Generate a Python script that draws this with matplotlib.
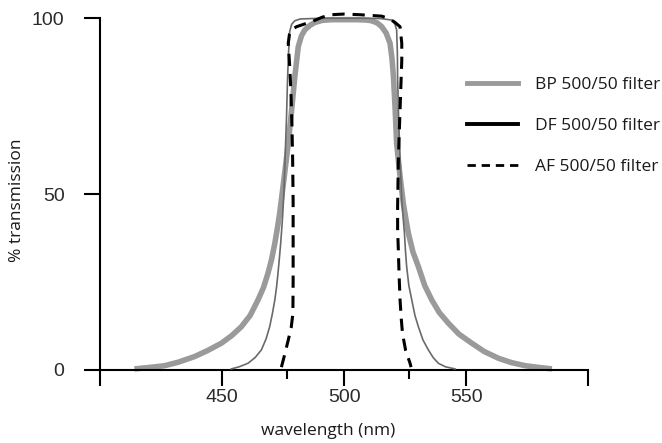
import matplotlib
matplotlib.use("Agg")
import matplotlib.pyplot as plt
from matplotlib.lines import Line2D
from matplotlib.ticker import FixedLocator

# filter transmission curves (wavelength nm, % transmission)
bp_nm = [414.1, 420, 426.4, 432, 438.7, 444, 449.7, 454, 457.9, 461.5, 464.7, 467, 468.8,
         470.3, 471.6, 472.7, 473.6, 475.3, 477.1, 478.5, 479.8, 481.2, 482.5, 483.9, 486,
         488.0, 491, 495, 500, 505, 509, 511.2, 513.5, 515.4, 517.2, 518.8, 519.6, 520.2,
         520.9, 521.5, 522.9, 524.3, 526.3, 528.2, 530.4, 533, 535.9, 539, 542.7, 547,
         552.3, 557.5, 563.3, 568.5, 574.2, 580, 585.1]
bp_t = [0.3, 0.7, 1.2, 2.2, 3.8, 5.5, 7.6, 9.8, 12.3, 15.5, 19.9, 23.5, 27.5,
        31.5, 36, 40.5, 44.6, 54, 64.4, 74, 83.4, 91.9, 95, 96.7, 98,
        98.8, 99.4, 99.6, 99.6, 99.6, 99.5, 99.3, 98.7, 97.6, 95.8, 92.9, 88.5, 83.4,
        74, 64.4, 55, 47, 38.9, 33.5, 29.4, 24, 19.9, 16.3, 13.3, 10.2,
        7.6, 5.2, 3.3, 2.1, 1.2, 0.7, 0.3]

df_nm = [453.8, 457, 460.6, 463.5, 466.1, 468, 469.5, 470.6, 471.6, 472.3, 472.9, 473.5,
         474.0, 474.7, 475.3, 475.9, 476.4, 476.8, 477.2, 477.7, 478.5, 479.8, 482, 490,
         500, 510, 515, 519.5, 520.8, 521.5, 521.8, 521.9, 522.3, 522.8, 523.2, 523.6,
         524.2, 524.7, 525.1, 525.6, 526.5, 527.7, 529, 530.4, 532.3, 534.5, 536.5,
         538.6, 541.5, 545.4]
df_t = [0.3, 0.9, 1.9, 3.5, 5.7, 8.8, 12.3, 16, 19.9, 23.5, 27.5, 32,
        36, 42.6, 50, 62, 72, 82.5, 90, 96.2, 98.3, 99.3, 99.8, 100,
        100, 100, 99.9, 99.5, 98.3, 96.7, 90, 83, 72, 62, 55, 48.3,
        43, 38.9, 34, 29.4, 24, 19.9, 15.5, 12.3, 8.5, 5.7, 3.5,
        1.9, 0.9, 0.3]

af_nm = [474.3, 475.5, 477.1, 478.3, 479.0, 479.1, 479.1, 479.1, 478.9, 478.6, 478.2,
         477.7, 477.1, 477.6, 478.4, 480.5, 483.9, 487.3, 491, 494.4, 500, 506.7, 511,
         515.4, 518, 520.5, 522.9, 523.6, 523.6, 523.2, 522.9, 522.5, 522.2, 521.9,
         521.9, 522.2, 522.5, 522.9, 523.4, 523.9, 525.2, 527.0, 527.4]
af_t = [0.8, 4, 8.5, 12, 16, 25, 35, 48, 60, 70, 79,
        86.3, 92.9, 95.5, 96.7, 97.6, 98.4, 99.2, 100.3, 101, 101.2, 101, 100.8,
        100.6, 100, 99, 97.6, 92.9, 88, 80, 74, 66, 59.7, 46.4,
        40, 34, 27, 19.9, 14.5, 10.4, 5.5, 1.9, 0.8]

x_major = [400, 450, 500, 550, 600]
x_labels = ["", "450", "500", "550", ""]
x_minor = [476.5, 526.5]
y_ticks = [0, 50, 100]
legend_labels = ["BP 500/50 filter", "DF 500/50 filter", "AF 500/50 filter"]

W, H = 662, 443
fig = plt.figure(figsize=(W / 100, H / 100), dpi=100)
# axes placed in pixel terms: x 390..610 nm, y -8..104 %
ax = fig.add_axes([75.6 / W, (H - 398.1) / H, 537.1 / W, 393.9 / H])
ax.set_xlim(390, 610)
ax.set_ylim(-8, 104)

ax.plot(bp_nm, bp_t, color="#9a9a9a", lw=4.0, solid_capstyle="butt", zorder=2)
ax.plot(df_nm, df_t, color="#6a6a6a", lw=1.2, zorder=3)
ax.plot(af_nm, af_t, color="black", lw=2.2, dashes=(4, 2.6), zorder=4)

for s in ["top", "right"]:
    ax.spines[s].set_visible(False)
ax.spines["left"].set_position(("data", 400))
ax.spines["bottom"].set_position(("data", 0))
ax.spines["left"].set_bounds(0, 100)
ax.spines["bottom"].set_bounds(400, 600)
for s in ["left", "bottom"]:
    ax.spines[s].set_linewidth(1.5)

ax.xaxis.set_major_locator(FixedLocator(x_major))
ax.set_xticklabels(x_labels)
ax.xaxis.set_minor_locator(FixedLocator(x_minor))
ax.set_yticks(y_ticks)
ax.set_yticklabels([str(v) for v in y_ticks])

ax.tick_params(axis="x", which="major", direction="out", length=11.5, width=1.5,
               pad=2.5, labelcolor="#2b2b2b", labelsize=14)
ax.tick_params(axis="x", which="minor", direction="out", length=6.5, width=1.5)
ax.tick_params(axis="y", direction="out", length=11.5, width=1.5, pad=14,
               labelcolor="#2b2b2b", labelsize=14)
for lab in ax.get_xticklabels() + ax.get_yticklabels():
    lab.set_family("Liberation Sans")

ax.set_xlabel("wavelength (nm)", family="Open Sans", fontsize=12.5, color="#1a1a1a")
ax.xaxis.set_label_coords((328 - 75.6) / 537.1, -33 / 393.9)
ax.xaxis.label.set_va("center")
ax.set_ylabel("% transmission", family="Open Sans", fontsize=12.5, color="#1a1a1a")
ax.yaxis.set_label_coords((17 - 75.6) / 537.1, (398.1 - 200) / 393.9)
ax.yaxis.label.set_va("center")

handles = [Line2D([], [], color="#9a9a9a", lw=3.5),
           Line2D([], [], color="black", lw=2.8),
           Line2D([], [], color="black", lw=2.0, dashes=(3, 2.1))]
leg = ax.legend(handles, legend_labels, loc="upper left",
                bbox_to_anchor=(467 / W, (H - 77) / H), bbox_transform=fig.transFigure,
                frameon=False, borderpad=0, borderaxespad=0,
                handlelength=2.94, handletextpad=0.98, labelspacing=1.43,
                prop=dict(family="Open Sans", size=12.5))
for t in leg.get_texts():
    t.set_color("#1a1a1a")

fig.savefig("out.png", dpi=100)
